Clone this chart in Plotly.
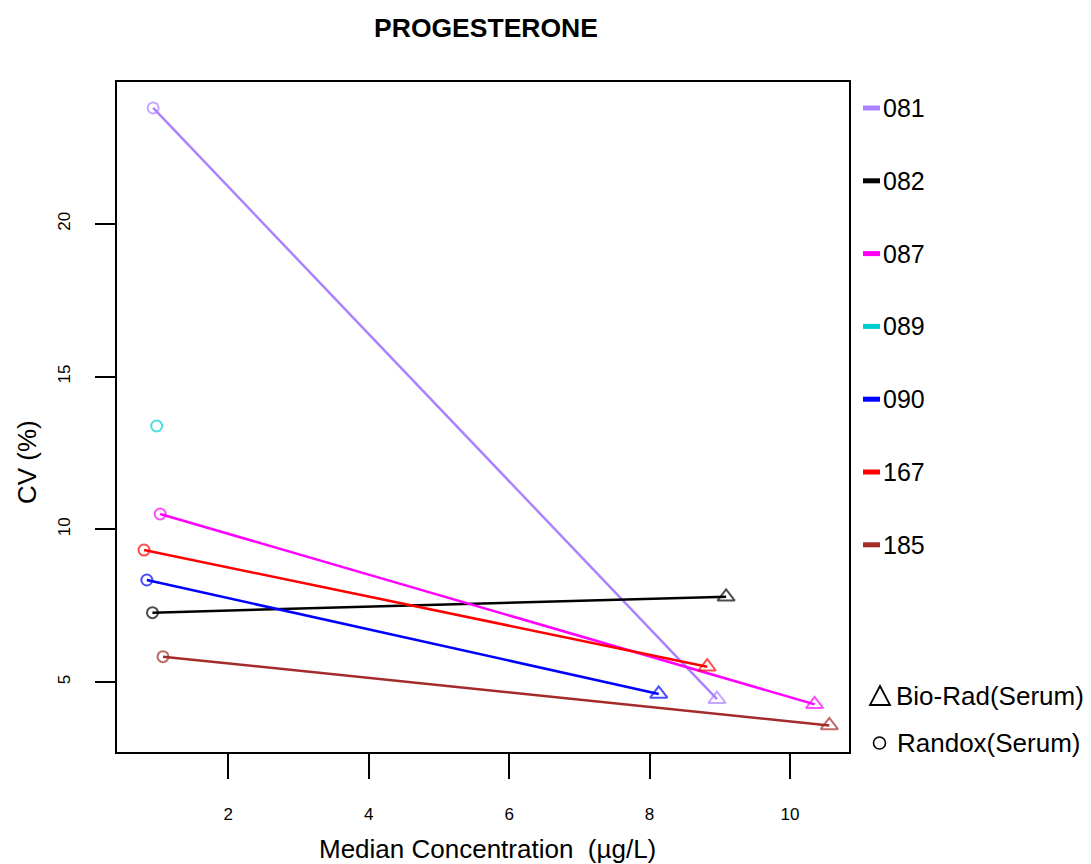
import plotly.graph_objects as go

# ---- data ----
labs = ["081", "082", "087", "089", "090", "167", "185"]
lab_colors = ["#AB82FF", "#000000", "#FF00FF", "#00CDCD", "#0000FF", "#FF0000", "#A52A2A"]
randox_conc = [0.93, 0.92, 1.03, 0.98, 0.84, 0.80, 1.07]
randox_cv = [23.79, 7.27, 10.50, 13.38, 8.34, 9.32, 5.83]
biorad_conc = [8.96, 9.09, 10.35, None, 8.13, 8.82, 10.56]
biorad_cv = [4.44, 7.79, 4.27, None, 4.61, 5.50, 3.58]
x_ticks = [2, 4, 6, 8, 10]
y_ticks = [5, 10, 15, 20]
sample_types = ["Bio-Rad(Serum)", "Randox(Serum)"]

# page body has an 8px margin: figure drawn 8px in from the window corner
OFF = 8
WIN_W, WIN_H = 1091, 864
W, H = WIN_W - OFF, WIN_H - OFF
# plot box in window pixels
L, R, T, B = 117, 849, 82, 752
FONT = "Liberation Sans, Arial, Helvetica, sans-serif"


def px_x(px):
    return (px - L) / (R - L)


def px_y(py):
    return (B - py) / (B - T)


fig = go.Figure()

for i, lab in enumerate(labs):
    xs = [randox_conc[i]]
    ys = [randox_cv[i]]
    syms = ["circle-open"]
    sizes = [11]
    if biorad_conc[i] is not None:
        xs.append(biorad_conc[i])
        ys.append(biorad_cv[i])
        syms.append("triangle-up-open")
        sizes.append(15)
    fig.add_trace(go.Scatter(
        x=xs, y=ys, mode="lines+markers",
        line=dict(color=lab_colors[i], width=2.5),
        marker=dict(symbol=syms, size=sizes, color=lab_colors[i],
                    line=dict(width=2, color=lab_colors[i])),
        showlegend=False, name=lab,
    ))

shapes = []
annotations = []

# lab legend (line swatch + label), outside the plot on the right
leg_y0, leg_step = 108, 72.8
for i, lab in enumerate(labs):
    yy = leg_y0 + i * leg_step
    shapes.append(dict(
        type="line", xref="paper", yref="paper",
        x0=px_x(863), x1=px_x(880), y0=px_y(yy), y1=px_y(yy),
        line=dict(color=lab_colors[i], width=5)))
    annotations.append(dict(
        x=px_x(881), y=px_y(yy), xref="paper", yref="paper",
        text=lab, showarrow=False, xanchor="left", yanchor="middle",
        font=dict(size=25, color="black", family=FONT)))

# sample-type key
tri_y = 696
circ_y = 743
shapes.append(dict(
    type="path", xref="paper", yref="paper",
    path="M {a},{b} L {c},{d} L {e},{f} Z".format(
        a=px_x(870), b=px_y(tri_y + 9), c=px_x(890), d=px_y(tri_y + 9),
        e=px_x(880), f=px_y(tri_y - 10)),
    line=dict(color="black", width=1.8), fillcolor="rgba(0,0,0,0)"))
shapes.append(dict(
    type="circle", xref="paper", yref="paper",
    x0=px_x(873.5), x1=px_x(885.5), y0=px_y(circ_y + 6), y1=px_y(circ_y - 6),
    line=dict(color="black", width=1.6)))
annotations.append(dict(
    x=px_x(894), y=px_y(tri_y), xref="paper", yref="paper",
    text=sample_types[0], showarrow=False, xanchor="left", yanchor="middle",
    font=dict(size=26, color="black", family=FONT)))
annotations.append(dict(
    x=px_x(895), y=px_y(circ_y), xref="paper", yref="paper",
    text=sample_types[1], showarrow=False, xanchor="left", yanchor="middle",
    font=dict(size=26, color="black", family=FONT)))

# axis titles
annotations.append(dict(
    x=px_x(487), y=px_y(849), xref="paper", yref="paper",
    text="Median Concentration \u00a0(µg/L)", showarrow=False,
    xanchor="center", yanchor="middle",
    font=dict(size=26, color="black", family=FONT)))
annotations.append(dict(
    x=px_x(27), y=px_y(462), xref="paper", yref="paper",
    text="CV (%)", showarrow=False, textangle=-90,
    xanchor="center", yanchor="middle",
    font=dict(size=26, color="black", family=FONT)))

fig.update_layout(
    width=W, height=H,
    margin=dict(l=L - OFF, r=W - (R - OFF), t=T - OFF, b=H - (B - OFF),
                autoexpand=False),
    paper_bgcolor="white", plot_bgcolor="white",
    font=dict(family=FONT, color="black"),
    title=dict(text="<b>PROGESTERONE</b>", x=px_x(486), xref="paper",
               xanchor="center", y=1 - (28 - OFF) / H, yanchor="middle",
               font=dict(size=26.5, family=FONT, color="black")),
    showlegend=False,
    shapes=shapes,
    annotations=annotations,
)

fig.update_xaxes(
    range=[0.415, 10.84], tickvals=x_ticks, ticktext=[str(v) for v in x_ticks],
    ticks="outside", ticklen=25, tickwidth=1.5, tickcolor="black",
    showline=True, linecolor="black", linewidth=1.5, mirror=True,
    showgrid=False, zeroline=False,
    tickfont=dict(size=17, family=FONT, color="black"),
    ticklabelstandoff=21,
)
fig.update_yaxes(
    range=[2.71, 24.64], tickvals=y_ticks, ticktext=[str(v) for v in y_ticks],
    ticks="outside", ticklen=20, tickwidth=1.5, tickcolor="black",
    showline=True, linecolor="black", linewidth=1.5, mirror=True,
    showgrid=False, zeroline=False, tickangle=-90,
    tickfont=dict(size=17, family=FONT, color="black"),
    ticklabelstandoff=18,
)

fig.write_html("out.html")
